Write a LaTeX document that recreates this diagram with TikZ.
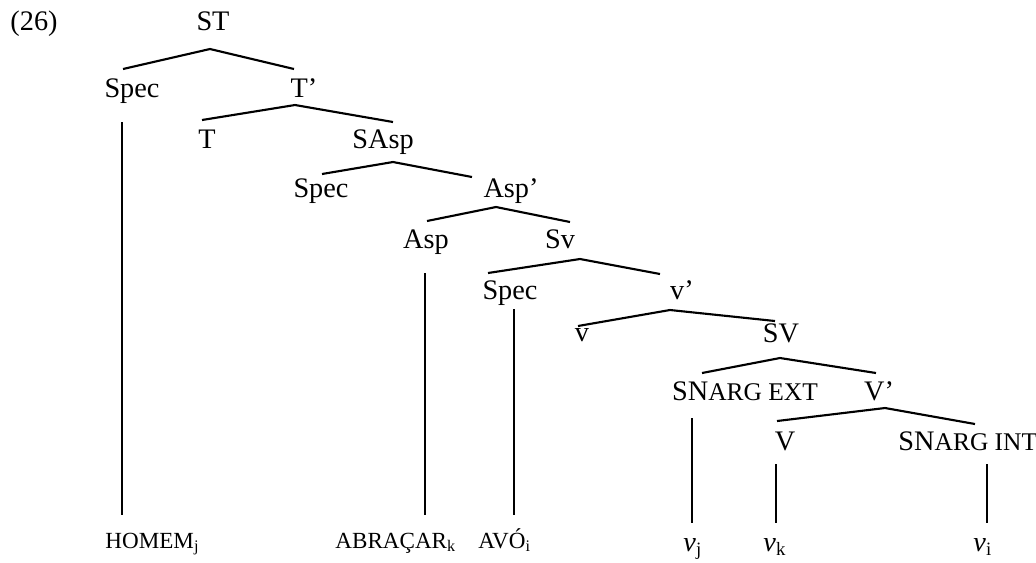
\documentclass[tikz,border=0pt]{standalone}
\usepackage{fontspec}
\setmainfont{Liberation Serif}
\begin{document}
\begin{tikzpicture}[x=0.4243pt,y=-0.4243pt,
  lab/.style={anchor=base,inner sep=0pt,font=\fontsize{12}{14}\selectfont},
  leaf/.style={anchor=base west,inner sep=0pt,font=\fontsize{12}{14}\selectfont},
  word/.style={anchor=base west,inner sep=0pt,font=\fontsize{9.8}{12}\selectfont},
  br/.style={line width=0.9pt},
  thinline/.style={line width=0.45pt},
  thickline/.style={line width=0.9pt}]
\useasboundingbox (0,0) rectangle (1036,562);
\newcommand{\smc}[1]{{\fontsize{10.8}{12}\selectfont #1}}
% labels
\node[leaf] (ex) at (10,30) {(26)};
\node[lab] (ST) at (213,30) {ST};
\node[lab] (Spec1) at (132,97) {Spec};
\node[lab] (Tb) at (304,97) {T’};
\node[lab] (T) at (207,148) {T};
\node[lab] (SAsp) at (383,148) {SAsp};
\node[lab] (Spec2) at (321,197) {Spec};
\node[lab] (Aspb) at (511,197) {Asp’};
\node[lab] (Asp) at (426,248) {Asp};
\node[lab] (Sv) at (560,248) {Sv};
\node[lab] (Spec3) at (510,299) {Spec};
\node[lab] (vb) at (682,299) {v’};
\node[lab] (v) at (582,341) {v};
\node[lab] (SV) at (781,342) {SV};
\node[lab] (SNext) at (745,400) {SN\smc{ARG EXT}};
\node[lab] (Vb) at (879,400) {V’};
\node[lab] (V) at (785,450) {V};
\node[leaf] (SNint) at (898,450) {SN\smc{ARG INT}};
% leaves
\node[word] (homem) at (105,548) {HOMEM\textsubscript{j}};
\node[word] (abracar) at (335,548) {ABRAÇAR\textsubscript{k}};
\node[word] (avo) at (478,548) {AVÓ\textsubscript{i}};
\node[leaf] (vj) at (683,551) {\textit{v}\textsubscript{j}};
\node[leaf] (vk) at (763,551) {\textit{v}\textsubscript{k}};
\node[leaf] (vi) at (973,551) {\textit{v}\textsubscript{i}};
% branch coordinates
\coordinate (STa) at (210,49);  \coordinate (STl) at (123,69);  \coordinate (STr) at (294,69);
\coordinate (Tba) at (295,105); \coordinate (Tbl) at (202,120); \coordinate (Tbr) at (393,122);
\coordinate (SAa) at (393,162); \coordinate (SAl) at (322,174); \coordinate (SAr) at (472,177);
\coordinate (Aba) at (496,207); \coordinate (Abl) at (427,221); \coordinate (Abr) at (570,222);
\coordinate (Sva) at (580,259); \coordinate (Svl) at (488,273); \coordinate (Svr) at (660,274);
\coordinate (vba) at (670,310); \coordinate (vbl) at (578,326); \coordinate (vbr) at (775,321);
\coordinate (SVa) at (780,358); \coordinate (SVl) at (702,373); \coordinate (SVr) at (876,373);
\coordinate (Vba) at (885,408); \coordinate (Vbl) at (777,421); \coordinate (Vbr) at (975,424);
\draw[br] (STl) -- (STa) -- (STr);
\draw[br] (Tbl) -- (Tba) -- (Tbr);
\draw[br] (SAl) -- (SAa) -- (SAr);
\draw[br] (Abl) -- (Aba) -- (Abr);
\draw[br] (Svl) -- (Sva) -- (Svr);
\draw[br] (vbl) -- (vba) -- (vbr);
\draw[br] (SVl) -- (SVa) -- (SVr);
\draw[br] (Vbl) -- (Vba) -- (Vbr);
% vertical lines
\coordinate (l1t) at (122,122); \coordinate (l1b) at (122,515);
\coordinate (l2t) at (425,273); \coordinate (l2b) at (425,515);
\coordinate (l3t) at (514,309); \coordinate (l3b) at (514,515);
\coordinate (l4t) at (692,418); \coordinate (l4b) at (692,523);
\coordinate (l5t) at (776,464); \coordinate (l5b) at (776,523);
\coordinate (l6t) at (987,464); \coordinate (l6b) at (987,523);
\draw[thinline] (l1t) -- (l1b);
\draw[thinline] (l2t) -- (l2b);
\draw[thickline] (l3t) -- (l3b);
\draw[thickline] (l4t) -- (l4b);
\draw[thickline] (l5t) -- (l5b);
\draw[thickline] (l6t) -- (l6b);
\end{tikzpicture}
\end{document}
